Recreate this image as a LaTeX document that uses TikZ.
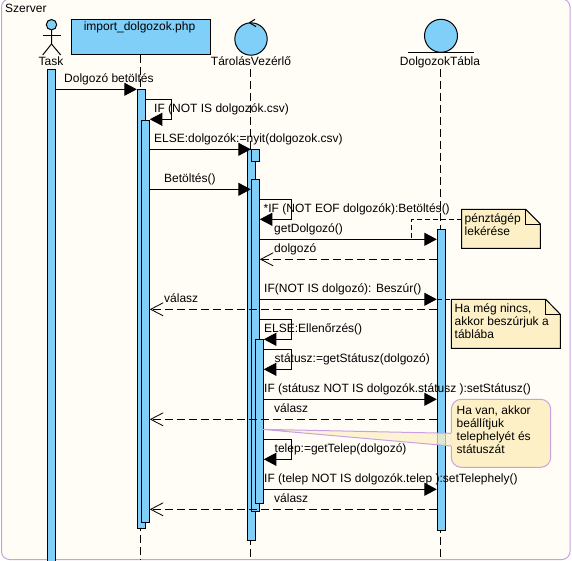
\documentclass[tikz,border=0pt]{standalone}
\usepackage{fontspec}
\setmainfont{Liberation Sans}
\usetikzlibrary{arrows.meta,positioning,calc,shapes.geometric}

\definecolor{barblue}{HTML}{80CFF8}
\definecolor{notefill}{HTML}{FDF0C6}
\definecolor{framepurple}{HTML}{C8A2E0}
\definecolor{paper}{HTML}{FFFDF6}

\tikzset{
  bar/.style={draw, fill=barblue, line width=1pt, minimum width=8pt, inner sep=0pt, anchor=north},
  life/.style={line width=1pt, dash pattern=on 8pt off 4pt},
  msg/.style={line width=1pt, -{Triangle[length=12.5pt,width=13pt]}},
  ret/.style={line width=1pt, dash pattern=on 8pt off 4pt, -{Straight Barb[length=12.5pt,width=13pt,line width=0.8pt]}},
  lbl/.style={anchor=base west, inner sep=0pt},
  headname/.style={anchor=base, inner sep=0pt},
  notetext/.style={anchor=base west, inner sep=0pt, align=left, font=\fontsize{12}{12.8}\selectfont}
}

\begin{document}
\begin{tikzpicture}[x=1pt, y=-1pt, every node/.style={font=\fontsize{12}{13}\selectfont}]
\useasboundingbox (0,0) rectangle (572,560);
\fill[white] (0,0) rectangle (572,560);
\draw[framepurple, fill=paper, line width=1pt, rounded corners=8pt] (1.5,-1) rectangle (570,559.5);
\node[lbl] (szerver) at (5,12.7) {Szerver};

% lifeline heads
\draw[fill=barblue, line width=1pt] (51.5,24.7) circle (5.2pt);
\coordinate (neck) at (51.5,30);
\coordinate (hip) at (51.5,44);
\draw[line width=1pt] (neck) -- (hip) -- (42.7,55);
\draw[line width=1pt] (hip) -- (60.7,55);
\draw[line width=1pt] (42.7,35) -- (60.7,35);
\node[headname] (task) at (51,65.7) {Task};

\node[draw, fill=barblue, line width=1pt, minimum width=139pt, minimum height=35pt, inner sep=0pt] (imp) at (140.8,36.8) {};
\node[headname] (impname) at (139.5,30.7) {import\_dolgozok.php};

\draw[fill=barblue, line width=1pt] (251,39) circle (16.2pt);
\draw[line width=1pt] (255,19.3) -- (249.5,22.7) -- (256,26.7);
\node[headname] (ctl) at (251,65.7) {TárolásVezérlő};

\draw[fill=barblue, line width=1pt] (441,35.8) circle (16.5pt);
\draw[line width=1pt] (408,52.3) -- (473.7,52.3);
\node[headname] (tab) at (440,65.7) {DolgozokTábla};

% lifelines
\coordinate (impend) at (140.3,559);
\coordinate (ctlend) at (250.3,559);
\coordinate (tabend) at (440.3,559);
\draw[life] (impend |- imp.south) -- (impend);
\draw[life] (ctlend |- 0,69) -- (ctlend);
\draw[life] (tabend |- 0,69) -- (tabend);

% activations
\node[bar, minimum height=495pt] (taskA) at (51.5,69.3) {};
\node[bar, minimum height=439pt] (impA) at (141.3,89.3) {};
\node[bar, minimum height=402.5pt] (impB) at (145.3,119.5) {};
\node[bar, minimum height=391pt] (ctlA) at (251.3,149.3) {};
\node[bar, minimum height=12pt] (ctlS) at (255.3,149.3) {};
\node[bar, minimum height=332.3pt] (ctlB) at (255.3,179) {};
\node[bar, minimum height=164pt] (ctlC) at (259.3,339.3) {};
\node[bar, minimum height=301pt] (tabA) at (441.3,229.3) {};

% callout pointer
\coordinate (hvtip) at (261.7,429.3);
\coordinate (hvup) at (451.3,433.3);
\coordinate (hvlo) at (451.3,446);
\draw[framepurple, fill=notefill, fill opacity=0.75, line width=1pt] (hvup) -- (hvtip) -- (hvlo);

% messages
\draw[msg] (taskA.east |- 0,89.3) -- (impA.west |- 0,89.3);
\node[lbl] (m1) at (64,82.7) {Dolgozó betöltés};
\draw[msg] (impA.east |- 0,99.3) -- (171.3,99.3) -- (171.3,119.3) -- (impB.east |- 0,119.3);
\node[lbl] (m2) at (154,112.7) {IF (NOT IS dolgozók.csv)};
\draw[msg] (impB.east |- 0,149.3) -- (ctlS.west |- 0,149.3);
\node[lbl] (m3) at (154,142.7) {ELSE:dolgozók:=nyit(dolgozok.csv)};
\draw[msg] (impB.east |- 0,189.3) -- (ctlB.west |- 0,189.3);
\node[lbl] (m4) at (164,182.7) {Betöltés()};
\draw[msg] (ctlB.east |- 0,199.3) -- (291.3,199.3) -- (291.3,219.3) -- (ctlB.east |- 0,219.3);
\node[lbl] (m5) at (263.5,212.7) {*IF (NOT EOF dolgozók):Betöltés()};
\draw[msg] (ctlB.east |- 0,239.3) -- (tabA.west |- 0,239.3);
\node[lbl] (m6) at (274,232.7) {getDolgozó()};
\draw[ret] (tabA.west |- 0,259.3) -- (ctlB.east |- 0,259.3);
\node[lbl] (m7) at (274,252.7) {dolgozó};
\draw[msg] (ctlB.east |- 0,299.3) -- (tabA.west |- 0,299.3);
\node[lbl] (m8) at (264,292.7) {IF(NOT IS dolgozó): Beszúr()};
\draw[ret] (tabA.west |- 0,309.3) -- (impB.east |- 0,309.3);
\node[lbl] (m9) at (164,302.7) {válasz};
\draw[msg] (ctlB.east |- 0,319.3) -- (291.3,319.3) -- (291.3,339.3) -- (ctlC.east |- 0,339.3);
\node[lbl] (m10) at (264,332.7) {ELSE:Ellenőrzés()};
\draw[msg] (ctlC.east |- 0,349.3) -- (291.3,349.3) -- (291.3,369.3) -- (ctlC.east |- 0,369.3);
\node[lbl] (m11) at (274.5,362.7) {státusz:=getStátusz(dolgozó)};
\draw[msg] (ctlC.east |- 0,399.3) -- (tabA.west |- 0,399.3);
\node[lbl] (m12) at (264,392.7) {IF (státusz NOT IS dolgozók.státusz ):setStátusz()};
\draw[ret] (tabA.west |- 0,419.3) -- (impB.east |- 0,419.3);
\node[lbl] (m13) at (274,412.7) {válasz};
\draw[msg] (ctlC.east |- 0,439.3) -- (291.3,439.3) -- (291.3,459.3) -- (ctlC.east |- 0,459.3);
\node[lbl] (m14) at (274.5,452.7) {telep:=getTelep(dolgozó)};
\draw[msg] (ctlC.east |- 0,489.3) -- (tabA.west |- 0,489.3);
\node[lbl] (m15) at (264,482.7) {IF (telep NOT IS dolgozók.telep ):setTelephely()};
\draw[ret] (tabA.west |- 0,509.3) -- (impB.east |- 0,509.3);
\node[lbl] (m16) at (274,502.7) {válasz};

% notes
\draw[fill=notefill, line width=1pt] (461.7,209.3) -- (525.7,209.3) -- (540.3,224) -- (540.3,248.3) -- (461.7,248.3) -- cycle;
\draw[line width=1pt] (525.7,209.3) -- (525.7,224) -- (540.3,224);
\node[notetext] (penz) at (464.5,235.5) {pénztágép\\lekérése};
\coordinate (penzbend) at (411.5,219.3);
\draw[line width=1pt, dash pattern=on 5pt off 3pt] (461.7,219.3) -- (penzbend) -- (penzbend |- 0,239.3);

\draw[fill=notefill, line width=1pt] (451.3,299.3) -- (545.7,299.3) -- (560.3,314.3) -- (560.3,348.3) -- (451.3,348.3) -- cycle;
\draw[line width=1pt] (545.7,299.3) -- (545.7,314.3) -- (560.3,314.3);
\node[notetext] (nincs) at (454.5,338.3) {Ha még nincs,\\akkor beszúrjuk a\\táblába};
\draw[line width=1pt, dash pattern=on 5pt off 3pt] (tabA.west |- 0,299.3) -- (451.3,299.3);

\node[draw=framepurple, fill=notefill, line width=1pt, rounded corners=10pt, minimum width=99.4pt, minimum height=68pt, inner sep=0pt] (havan) at (501,433.3) {};
\draw[notefill, line width=1.4pt] (hvup) -- (hvlo);
\node[notetext] (havantext) at (456.5,453.3) {Ha van, akkor\\beállítjuk\\telephelyét és\\státuszát};
\end{tikzpicture}
\end{document}
